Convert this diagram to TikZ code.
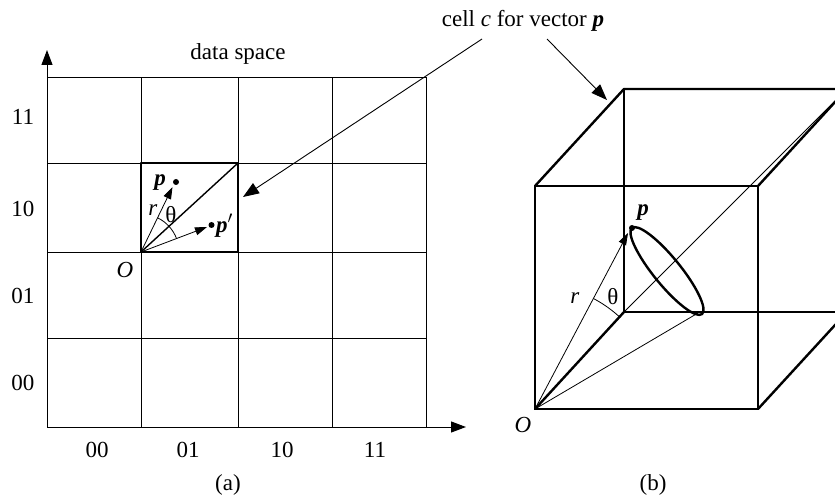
\documentclass[tikz,border=0pt]{standalone}
\usepackage{fontspec}
\setmainfont{Liberation Serif}
\usetikzlibrary{arrows.meta}
\begin{document}
\begin{tikzpicture}[x=1pt,y=1pt,
  every node/.style={inner sep=0pt,outer sep=0pt,font=\fontsize{23}{27}\selectfont},
  gridline/.style={line width=0.9pt},
  thickline/.style={line width=2.4pt,line cap=round,line join=round},
  thinline/.style={line width=0.8pt},
  bigarrow/.style={line width=0.9pt,-{Triangle[length=16pt,width=12pt]}},
  vecarrow/.style={line width=0.8pt,-{Triangle[length=12pt,width=8pt]}},
  axisarrow/.style={line width=1pt,-{Triangle[length=15pt,width=11pt]}},
  dotmark/.style={circle,fill=black,minimum size=6pt,inner sep=0pt}]
\useasboundingbox (0,0) rectangle (835,496);
\clip (0,0) rectangle (835,496);
% ---------- (a) grid ----------
\coordinate (A0) at (47,69);
\coordinate (Ytop) at (47,446);
\coordinate (Xend) at (466,69);
\foreach \x in {141,238,332,426} \draw[gridline] (\x,69) -- (\x,419);
\foreach \y in {158,244,333,419} \draw[gridline] (47,\y) -- (426,\y);
\draw[axisarrow] (A0) -- (Ytop);
\draw[axisarrow] (A0) -- (Xend);
% tick labels
\node[anchor=base] (l11) at (23,371) {11};
\node[anchor=base] (l10) at (23,279) {10};
\node[anchor=base] (l01) at (23,193) {01};
\node[anchor=base] (l00) at (23,106) {00};
\node[anchor=base] (b00) at (97,39) {00};
\node[anchor=base] (b01) at (188,39) {01};
\node[anchor=base] (b10) at (282,39) {10};
\node[anchor=base] (b11) at (375,39) {11};
\node[anchor=base] (ds) at (238,436) {data space};
\node (capa) at (228,11) {(a)};
% highlighted cell
\coordinate (Oa) at (141,244);
\coordinate (Ca) at (238,333);
\draw[thickline] (141,244) rectangle (238,333);
\draw[line width=1.4pt] (Oa) -- (Ca);
\node[dotmark] (pa) at (176,314) {};
\node[dotmark] (qa) at (211.5,271) {};
\coordinate (pat) at (172.5,309);
\coordinate (qat) at (207,269);
\draw[vecarrow] (Oa) -- (pat);
\draw[vecarrow] (Oa) -- (qat);
\draw[thinline] ([shift={(64:38)}]Oa) arc[start angle=64,end angle=21,radius=38];
\node[anchor=base] (plabel) at (160,310) {\textbf{\textit{p}}};
\node[anchor=base west] (qlabel) at (216,263) {\textbf{\textit{p}}$'$};
\node (ra) at (153,286) {\textit{r}};
\node (tha) at (171,281) {θ};
\node (Olabela) at (125,226) {\textit{O}};
% ---------- label and pointers ----------
\node[anchor=base] (cell) at (523,469) {cell \textit{c} for vector \textbf{\textit{p}}};
\coordinate (s1) at (482,457);
\coordinate (t1) at (243,299);
\coordinate (s2) at (547,457);
\coordinate (t2) at (607,396);
\draw[bigarrow] (s1) -- (t1);
\draw[bigarrow] (s2) -- (t2);
% ---------- (b) cube ----------
\coordinate (Ob) at (535,87);
\coordinate (F2) at (758,87);
\coordinate (F3) at (758,310);
\coordinate (F4) at (535,310);
\coordinate (B1) at (624,184);
\coordinate (B2) at (847,184);
\coordinate (B3) at (847,407);
\coordinate (B4) at (624,407);
\draw[thickline] (Ob) -- (F2) -- (F3) -- (F4) -- cycle;
\draw[thickline] (F4) -- (B4) -- (B3);
\draw[thickline] (B4) -- (B1) -- (B2);
\draw[thickline] (F3) -- (B3);
\draw[thickline] (F2) -- (B2);
\draw[thickline] (Ob) -- (B1);
\draw[thinline] (B1) -- (B3);
% cone
\coordinate (Ec) at (667,225);
\draw[line width=2.4pt,rotate around={-50.9:(Ec)}] (Ec) ellipse[x radius=55.5,y radius=13.5];
\coordinate (Et) at (698,183);
\draw[thinline] (Ob) -- (Et);
\node[dotmark] (pb) at (632,268) {};
\coordinate (pbt) at (628,263);
\draw[vecarrow] (Ob) -- (pbt);
\draw[thinline] ([shift={(62.2:125)}]Ob) arc[start angle=62.2,end angle=47,radius=125];
\node[anchor=base] (plb) at (643,280) {\textbf{\textit{p}}};
\node (rb) at (575,198) {\textit{r}};
\node (thb) at (613,199) {θ};
\node (Olabelb) at (523,71) {\textit{O}};
\node (capb) at (653,11) {(b)};
\end{tikzpicture}
\end{document}
